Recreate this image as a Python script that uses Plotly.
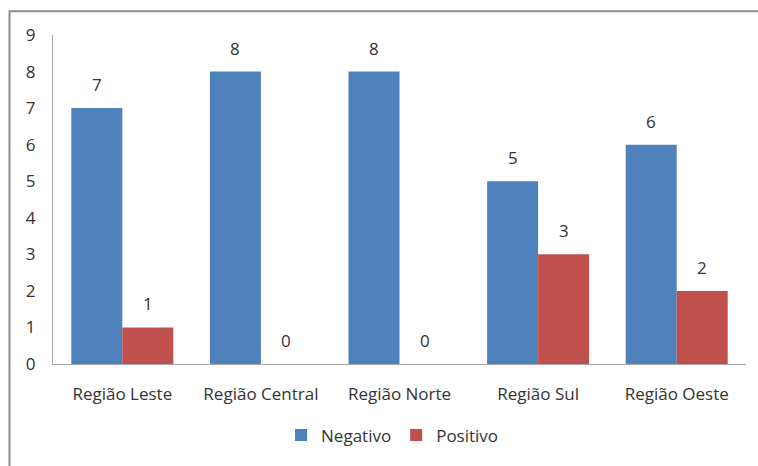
import plotly.graph_objects as go

categories = ["Região Leste", "Região Central", "Região Norte", "Região Sul", "Região Oeste"]
negativo = [7, 8, 8, 5, 6]
positivo = [1, 0, 0, 3, 2]
y_ticks = list(range(0, 10))

font_family = "'Open Sans', 'DejaVu Sans', sans-serif"
text_color = "#333333"
fsize = 17

fig = go.Figure()
fig.add_trace(go.Bar(
    x=categories, y=negativo, name="Negativo",
    marker=dict(color="#4F81BD", line=dict(width=0)),
))
fig.add_trace(go.Bar(
    x=categories, y=positivo, name="Positivo",
    marker=dict(color="#C0504D", line=dict(width=0)),
))

annotations = []
for series, shift in ((negativo, -25.5), (positivo, 25.5)):
    for cat, v in zip(categories, series):
        annotations.append(dict(
            x=cat, y=v, xref="x", yref="y", text=str(v), showarrow=False,
            xshift=shift, yshift=10, yanchor="bottom",
            font=dict(size=fsize, color=text_color, family=font_family),
        ))

fig.update_layout(
    width=758, height=466,
    margin=dict(l=53, r=12, t=35, b=100),
    paper_bgcolor="white", plot_bgcolor="white",
    barmode="group", bargap=0.264, bargroupgap=0,
    font=dict(family=font_family, size=fsize, color=text_color),
    showlegend=True,
    legend=dict(orientation="h", x=0.49, xanchor="center", y=-0.2175, yanchor="middle",
                font=dict(size=fsize, color=text_color), itemwidth=30, traceorder="normal"),
    xaxis=dict(showline=True, linecolor="#A6A6A6", linewidth=1, ticks="",
               showgrid=False, tickfont=dict(size=fsize, color=text_color),
               ticklabelstandoff=15),
    yaxis=dict(range=[0, 9], tickvals=y_ticks, showline=True, linecolor="#A6A6A6",
               linewidth=1, ticks="", showgrid=False, zeroline=False,
               tickfont=dict(size=fsize, color=text_color), ticklabelstandoff=13),
    annotations=annotations,
    shapes=[dict(type="rect", xref="paper", yref="paper",
                 x0=-0.0628, x1=1.06, y0=-0.35, y1=1.0725,
                 line=dict(color="#8C8C8C", width=2), fillcolor="rgba(0,0,0,0)",
                 layer="below")],
)

fig.write_html("out.html")
